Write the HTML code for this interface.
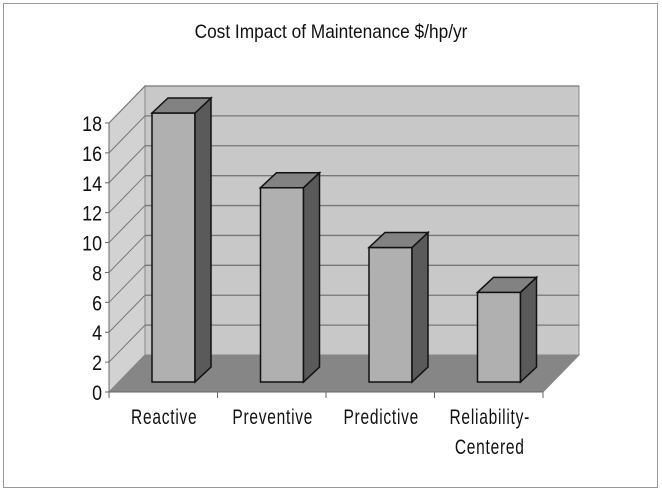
<!DOCTYPE html>
<html><head><meta charset="utf-8"><style>
html,body{margin:0;padding:0;background:#fff}
svg{display:block}
text{font-family:"Liberation Sans Narrow","Liberation Sans",sans-serif;fill:#111}
</style></head><body>
<svg id="chart" width="662" height="493" viewBox="0 0 662 493" xmlns="http://www.w3.org/2000/svg">
<rect x="3.5" y="3.5" width="654" height="484" fill="#fff" stroke="#999" stroke-width="1"/>
<text x="331" y="38" font-size="19" text-anchor="middle" transform="translate(331,0) scale(0.91,1) translate(-331,0)">Cost Impact of Maintenance $/hp/yr</text>
<g id="plot"></g>
</svg>
<script>
const categories = ["Reactive","Preventive","Predictive","Reliability-|Centered"];
const values = [18, 13, 9, 6];
const yTicks = [0,2,4,6,8,10,12,14,16,18];

const NS="http://www.w3.org/2000/svg";
const g=document.getElementById('plot');
const x0=109,x1=543,y0=392,yTop=123,yMax=18;
const DX=36,DY=-37;
function yS(v){return y0-(v/yMax)*(y0-yTop);}
const catW=(x1-x0)/categories.length;
function mk(tag,attrs){const e=document.createElementNS(NS,tag);for(const k in attrs)e.setAttribute(k,attrs[k]);g.appendChild(e);return e;}
function pts(a){return a.map(p=>p.join(',')).join(' ');}

let e=mk('polygon',{points:pts([[x0,yS(0)],[x0+DX,yS(0)+DY],[x0+DX,yS(yMax)+DY],[x0,yS(yMax)]]),fill:'#d2d2d2',stroke:'#888'});


e=mk('polygon',{points:pts([[x0+DX,yS(0)+DY],[x1+DX,yS(0)+DY],[x1+DX,yS(yMax)+DY],[x0+DX,yS(yMax)+DY]]),fill:'#c8c8c8',stroke:'#888'});


yTicks.forEach(t=>{
  if(t===0)return;
  const y=yS(t);
  const l1=mk('line',{x1:x0,y1:y,x2:x0+DX,y2:y+DY,stroke:'#777','stroke-width':1});
  
  
  const l2=mk('line',{x1:x0+DX,y1:y+DY,x2:x1+DX,y2:y+DY,stroke:'#777','stroke-width':1.3});
  
  
});
e=mk('polygon',{points:pts([[x0,y0],[x1,y0],[x1+DX,y0+DY],[x0+DX,y0+DY]]),fill:'#868686',stroke:'#868686'});


e=mk('line',{x1:x0,y1:yTop,x2:x0,y2:y0,stroke:'#666'});


e=mk('line',{x1:x0,y1:y0,x2:x1,y2:y0,stroke:'#666'});


yTicks.forEach(t=>{
  const y=yS(t);
  const tk=mk('line',{x1:x0-4,y1:y,x2:x0,y2:y,stroke:'#666'});
  
  
  const tx=mk('text',{x:102,y:y+8,'font-size':21,'text-anchor':'end',transform:`translate(102,0) scale(0.85,1) translate(-102,0)`});
  tx.textContent=t;
  
  
});
for(let i=0;i<=categories.length;i++){
  const x=x0+i*catW;
  const tk=mk('line',{x1:x,y1:y0,x2:x,y2:y0+6,stroke:'#666'});
  
  
}
const bw=43,bd=16,bdy=15,zb=382;
const sc=(y0-yTop)/yMax;
values.forEach((v,i)=>{
  const bx=x0+i*catW+43;
  const top=zb-v*sc;
  const front=mk('rect',{x:bx,y:top,width:bw,height:zb-top,fill:'#b0b0b0',stroke:'#111','stroke-width':1.5});
  
  
  const side=mk('polygon',{points:pts([[bx+bw,top],[bx+bw+bd,top-bdy],[bx+bw+bd,zb-bdy],[bx+bw,zb]]),fill:'#5a5a5a',stroke:'#111','stroke-width':1.5});
  
  
  const tp=mk('polygon',{points:pts([[bx,top],[bx+bd,top-bdy],[bx+bw+bd,top-bdy],[bx+bw,top]]),fill:'#828282',stroke:'#111','stroke-width':1.5});
  
  
  const lines=categories[i].split('|');
  lines.forEach((ln,j)=>{
    const cx=x0+(i+0.5)*catW+1;
    const t=mk('text',{x:cx,y:424+j*30,'font-size':21,'text-anchor':'middle','letter-spacing':1,transform:`translate(${cx},0) scale(0.74,1) translate(${-cx},0)`});
    t.textContent=ln;
    
    
  });
});
</script>
</body></html>
